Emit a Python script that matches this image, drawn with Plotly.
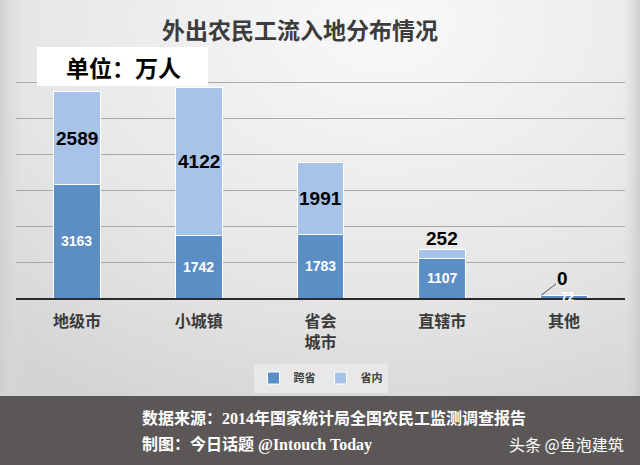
import base64
import plotly.graph_objects as go

categories = ["地级市", "小城镇", "省会<br>城市", "直辖市", "其他"]
kuasheng = [3163, 1742, 1783, 1107, 72]   # 跨省
shengnei = [2589, 4122, 1991, 252, 0]     # 省内
series_names = ["跨省", "省内"]

DARK = "#5b8ec5"
LIGHT = "#a7c3e7"

W, H = 640, 465
L, R, T, B = 16, 15, 47, 167
PW, PH = W - L - R, H - T - B


def py(p):  # pixel y -> paper y
    return (H - B - p) / PH


def px(p):
    return (p - L) / PW


svg = f'''<svg xmlns="http://www.w3.org/2000/svg" width="{W}" height="{H}">
<defs>
<radialGradient id="g" cx="0.6" cy="0.05" r="0.95">
<stop offset="0" stop-color="#f9f9f9"/>
<stop offset="0.6" stop-color="#e6e6e6"/>
<stop offset="1" stop-color="#d2d2d2"/>
</radialGradient>
<linearGradient id="l" x1="0" x2="1" y1="0" y2="0">
<stop offset="0" stop-color="#cfcfcf" stop-opacity="0.9"/>
<stop offset="0.04" stop-color="#e0e0e0" stop-opacity="0"/>
<stop offset="0.97" stop-color="#e0e0e0" stop-opacity="0"/>
<stop offset="1" stop-color="#c8c8c8" stop-opacity="0.8"/>
</linearGradient>
</defs>
<rect width="{W}" height="{H}" fill="url(#g)"/>
<rect width="{W}" height="{H}" fill="url(#l)"/>
</svg>'''
src = "data:image/svg+xml;base64," + base64.b64encode(svg.encode()).decode()

fig = go.Figure()
fig.add_trace(go.Bar(x=categories, y=kuasheng, name=series_names[0], marker=dict(color=DARK, line=dict(color="white", width=1)),
                     width=0.385, textposition="none"))
fig.add_trace(go.Bar(x=categories, y=shengnei, name=series_names[1], marker=dict(color=LIGHT, line=dict(color="white", width=1)),
                     width=0.385, textposition="none"))

ann = []
for i, (c, a, b) in enumerate(zip(categories, kuasheng, shengnei)):
    if a > 500:
        ann.append(dict(x=c, y=a / 2, text=f"<b>{a}</b>", showarrow=False,
                        font=dict(family="Arial, Liberation Sans", size=14, color="white")))
    else:
        ann.append(dict(x=c, y=a, text=f"<b>{a}</b>", showarrow=False, yanchor="middle", xshift=4, yshift=-2,
                        font=dict(family="Arial, Liberation Sans", size=12, color="white")))
    if b > 500:
        ann.append(dict(x=c, y=a + b / 2, text=f"<b>{b}</b>", showarrow=False,
                        font=dict(family="Arial, Liberation Sans", size=19, color="black")))
    elif b > 0:
        ann.append(dict(x=c, y=a + b, text=f"<b>{b}</b>", showarrow=False, yanchor="bottom", yshift=-2,
                        font=dict(family="Arial, Liberation Sans", size=19, color="black")))
    else:
        ann.append(dict(x=i - 0.19, y=a + b, text=f"<b>{b}</b>", showarrow=True, arrowhead=0, arrowwidth=1,
                        arrowcolor="#555", ax=22, ay=-17, standoff=0,
                        font=dict(family="Arial, Liberation Sans", size=19, color="black")))

# title & unit box
ann.append(dict(xref="paper", yref="paper", x=px(300), y=py(29), xanchor="center", yanchor="middle",
                text="<b>外出农民工流入地分布情况</b>", showarrow=False,
                font=dict(family="Noto Sans CJK SC", size=23, color="#3c3c3c")))
ann.append(dict(xref="paper", yref="paper", x=px(123), y=py(67), xanchor="center", yanchor="middle",
                text="<b>单位：万人</b>", showarrow=False,
                font=dict(family="Noto Sans CJK SC", size=23, color="black")))
# footer
ann.append(dict(xref="paper", yref="paper", x=px(140), y=py(418), xanchor="left", yanchor="middle",
                text="<b>数据来源：2014年国家统计局全国农民工监测调查报告</b>", showarrow=False,
                font=dict(family="Liberation Serif, Noto Sans CJK SC", size=16, color="white")))
ann.append(dict(xref="paper", yref="paper", x=px(140), y=py(444), xanchor="left", yanchor="middle",
                text="<b>制图：今日话题 @Intouch Today</b>", showarrow=False,
                font=dict(family="Liberation Serif, Noto Sans CJK SC", size=16, color="white")))
ann.append(dict(xref="paper", yref="paper", x=px(626), y=py(444), xanchor="right", yanchor="middle",
                text="头条 @鱼泡建筑", showarrow=False,
                font=dict(family="Noto Sans CJK SC", size=16, color="white")))

shapes = [
    dict(type="rect", xref="paper", yref="paper", x0=px(37), x1=px(208), y0=py(86), y1=py(47),
         fillcolor="white", line=dict(width=0), layer="above"),
    dict(type="rect", xref="paper", yref="paper", x0=px(0), x1=px(640), y0=py(465), y1=py(396),
         fillcolor="#5b5757", line=dict(width=0)),
]

fig.update_layout(
    width=W, height=H, margin=dict(l=L, r=R, t=T, b=B),
    barmode="stack",
    paper_bgcolor="rgba(0,0,0,0)", plot_bgcolor="rgba(0,0,0,0)",
    images=[dict(source=src, xref="paper", yref="paper", x=px(0), y=py(0), sizex=W / PW, sizey=H / PH,
                 xanchor="left", yanchor="top", sizing="stretch", layer="below")],
    showlegend=True,
    legend=dict(orientation="h", x=0.5, xanchor="center", y=py(378), yanchor="middle", traceorder="normal",
                bgcolor="rgba(235,235,235,0.8)", font=dict(family="Noto Sans CJK SC", size=11, color="#404040", weight="bold"),
                itemwidth=30, tracegroupgap=0),
    xaxis=dict(showline=True, linecolor="#2a2a2a", linewidth=2, ticks="", ticklabelstandoff=8,
               tickfont=dict(family="Noto Sans CJK SC", size=16, color="#3a3a3a", weight="bold"), fixedrange=True),
    yaxis=dict(range=[0, 7000], dtick=1000, showgrid=True, gridcolor="#a8a8a8", gridwidth=1,
               showticklabels=False, zeroline=False, fixedrange=True),
    annotations=ann, shapes=shapes,
)

fig.write_html("out.html")
